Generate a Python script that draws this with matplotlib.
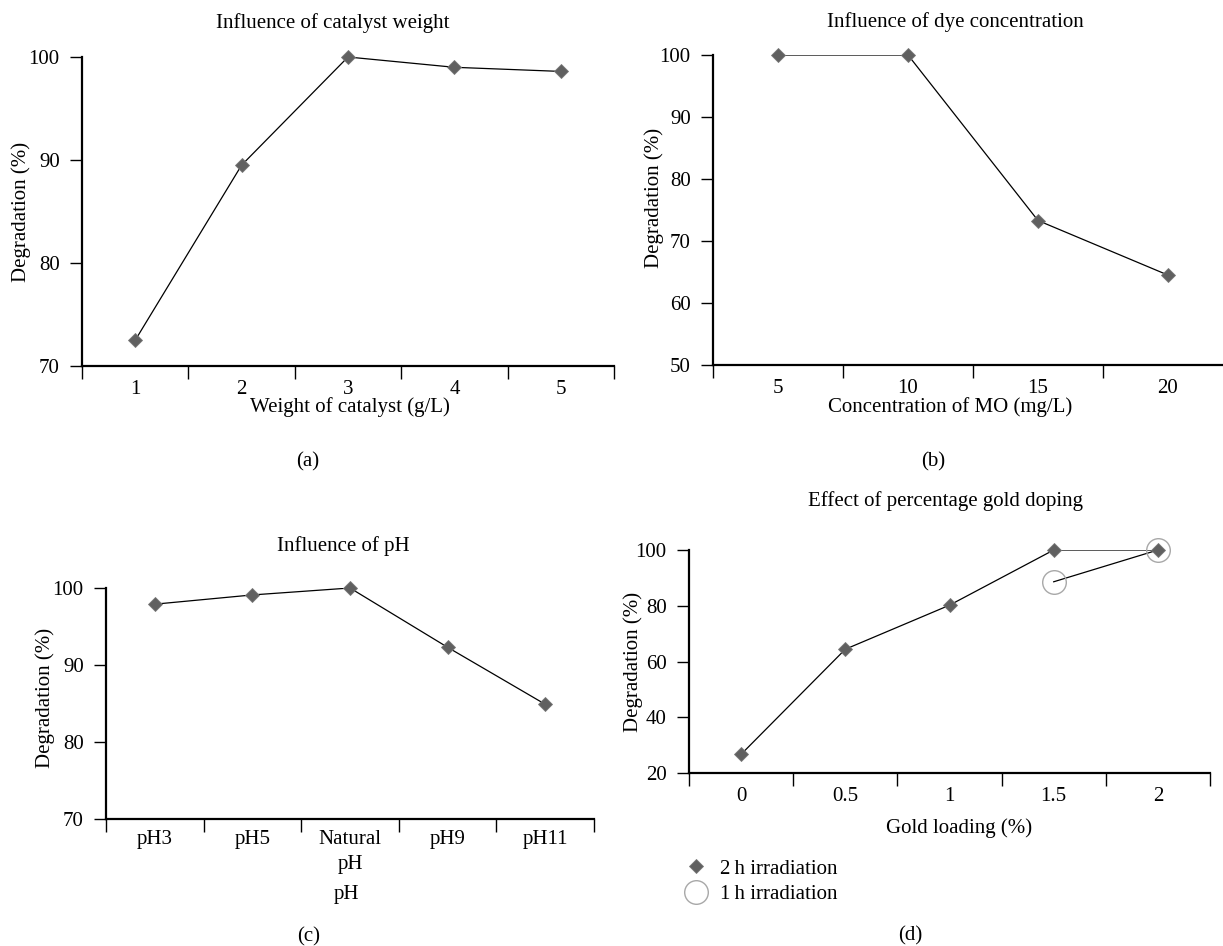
import matplotlib
matplotlib.use("Agg")
import matplotlib.pyplot as plt

plt.rcParams['font.family'] = ['Liberation Serif', 'DejaVu Serif']
plt.rcParams['font.size'] = 15

W, H = 1223, 946

# data
cat_weight = ["1", "2", "3", "4", "5"]
deg_weight = [72.5, 89.5, 100.0, 99.0, 98.6]

cat_dye = ["5", "10", "15", "20"]
deg_dye = [100.0, 100.0, 73.3, 64.5]

cat_ph = ["pH3", "pH5", "Natural\npH", "pH9", "pH11"]
deg_ph = [97.9, 99.1, 100.0, 92.3, 84.9]

cat_gold = ["0", "0.5", "1", "1.5", "2"]
deg_gold_2h = [26.7, 64.4, 80.2, 100.0, 100.0]
idx_gold_1h = [3, 4]
deg_gold_1h = [88.6, 100.0]

MARK = '#606060'


def axes_px(fig, left, right, top, bottom):
    return fig.add_axes([left / W, 1 - bottom / H, (right - left) / W, (bottom - top) / H])


def txt(fig, x, y, s, **kw):
    fig.text(x / W, 1 - y / H, s, ha='center', va='center', **kw)


def style(ax, labels, ylim, yticks, pad=10):
    n = len(labels)
    ax.set_xlim(-0.5, n - 0.5)
    ax.set_ylim(*ylim)
    ax.set_yticks(yticks)
    ax.set_xticks(range(n), labels)
    ax.set_xticks([i - 0.5 for i in range(n + 1)], minor=True)
    ax.tick_params(axis='x', which='major', length=0, pad=pad)
    ax.tick_params(axis='x', which='minor', length=9, width=1)
    ax.tick_params(axis='y', length=9, width=1, pad=7)
    for t in ax.get_xticklabels():
        t.set_linespacing(1.4)
    for s in ['top', 'right']:
        ax.spines[s].set_visible(False)
    for s in ['left', 'bottom']:
        ax.spines[s].set_linewidth(1.6)


def series(ax, y, x=None):
    if x is None:
        x = range(len(y))
    ax.plot(x, y, color='black', lw=0.9, zorder=2)
    ax.plot(x, y, ls='none', marker='D', ms=7, color=MARK, mec='#777777',
            mew=0.6, clip_on=False, zorder=3, label='2\u2009h irradiation')


fig = plt.figure(figsize=(W / 100, H / 100), dpi=100)

# (a)
ax1 = axes_px(fig, 82, 614, 57, 366)
series(ax1, deg_weight)
style(ax1, cat_weight, (70, 100), [70, 80, 90, 100])
ax1.set_ylabel("Degradation (%)")
ax1.yaxis.set_label_coords(-0.096, 0.5)
txt(fig, 333, 23, "Influence of catalyst weight")
txt(fig, 350, 407, "Weight of catalyst (g/L)")
txt(fig, 308, 462, "(a)")

# (b)
ax2 = axes_px(fig, 713, 1233, 55, 365)
series(ax2, deg_dye)
style(ax2, cat_dye, (50, 100), [50, 60, 70, 80, 90, 100])
ax2.set_ylabel("Degradation (%)")
ax2.yaxis.set_label_coords(-0.094, 0.54)
txt(fig, 955, 22, "Influence of dye concentration")
txt(fig, 950, 407, "Concentration of MO (mg/L)")
txt(fig, 933, 462, "(b)")

# (c)
ax3 = axes_px(fig, 106, 594, 588, 819)
series(ax3, deg_ph)
style(ax3, cat_ph, (70, 100), [70, 80, 90, 100], pad=8)
ax3.set_ylabel("Degradation (%)")
ax3.yaxis.set_label_coords(-0.1045, 0.525)
txt(fig, 343, 546, "Influence of pH")
txt(fig, 346, 895, "pH")
txt(fig, 309, 937, "(c)")

# (d)
ax4 = axes_px(fig, 689, 1210, 550, 773)
series(ax4, deg_gold_2h)
ax4.plot(idx_gold_1h, deg_gold_1h, color='black', lw=0.9, zorder=2)
ax4.plot(idx_gold_1h, deg_gold_1h, ls='none', marker='o', ms=17, mfc='none',
         mec='#a8a8a8', mew=1.0, clip_on=False, zorder=4, label='1\u2009h irradiation')
style(ax4, cat_gold, (20, 100), [20, 40, 60, 80, 100])
ax4.set_ylabel("Degradation (%)")
ax4.yaxis.set_label_coords(-0.088, 0.5)
txt(fig, 946, 501, "Effect of percentage gold doping")
txt(fig, 959, 828, "Gold loading (%)")
txt(fig, 910, 936, "(d)")

h, l = ax4.get_legend_handles_labels()
fig.legend(h[-2:], l[-2:], loc='upper left', bbox_to_anchor=(683 / W, 1 - 859 / H),
           frameon=False, borderpad=0, handlelength=1.2, handletextpad=0.6,
           labelspacing=0.3, borderaxespad=0)

fig.savefig("out.png", dpi=100)
